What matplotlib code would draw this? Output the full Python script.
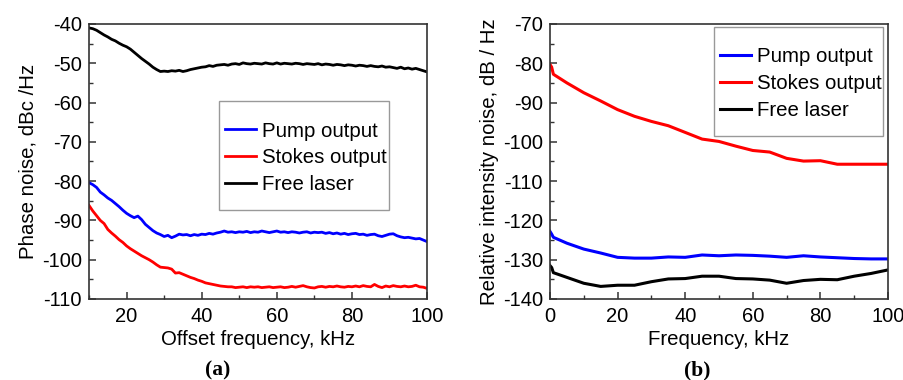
import numpy as np
import matplotlib.pyplot as plt
from matplotlib.patches import Rectangle

plt.rcParams['font.family'] = ['Liberation Sans', 'DejaVu Sans']
plt.rcParams['font.size'] = 14.5
plt.rcParams['axes.unicode_minus'] = False

# ---- panel (a): phase noise, 1 kHz steps from 10 to 100 kHz ----
freq_a = np.arange(10, 101)

free_a = [-41.0, -41.2, -41.6, -42.2, -42.8, -43.3, -43.9, -44.3, -44.9, -45.4,
          -45.8, -46.4, -47.2, -48.0, -48.8, -49.5, -50.2, -51.0, -51.6, -52.1,
          -52.0, -52.1, -51.9, -52.0, -51.8, -52.1, -51.9, -51.6, -51.4, -51.2,
          -51.0, -50.9, -50.6, -50.8, -50.5, -50.4, -50.3, -50.5, -50.2, -50.1,
          -50.3, -49.9, -50.1, -50.2, -50.0, -50.1, -50.2, -49.9, -50.1, -50.2,
          -49.9, -50.2, -50.0, -50.1, -50.2, -50.0, -50.1, -50.3, -50.1, -50.2,
          -50.3, -50.1, -50.4, -50.2, -50.3, -50.5, -50.3, -50.4, -50.6, -50.4,
          -50.5, -50.7, -50.5, -50.6, -50.8, -50.6, -50.8, -50.9, -50.7, -51.0,
          -50.9, -51.1, -51.3, -51.0, -51.4, -51.2, -51.5, -51.3, -51.6, -51.9,
          -52.2]

pump_a = [-80.4, -80.9, -81.6, -82.8, -83.5, -84.3, -84.9, -85.7, -86.5, -87.4,
          -88.2, -88.8, -89.3, -88.9, -89.8, -91.0, -91.8, -92.6, -93.2, -93.6,
          -94.1, -93.8, -94.4, -94.0, -93.5, -93.7, -93.6, -93.9, -93.6, -93.8,
          -93.5, -93.6, -93.3, -93.5, -93.2, -93.0, -92.7, -93.0, -92.9, -93.1,
          -92.9, -93.0, -92.8, -93.1, -92.9, -93.0, -92.7, -92.9, -93.1, -92.9,
          -92.7, -93.0, -92.9, -93.1, -92.9, -93.0, -93.2, -93.0, -92.9, -93.2,
          -93.0, -93.1, -93.0, -93.3, -93.1, -93.4, -93.2, -93.5, -93.3, -93.6,
          -93.4, -93.3, -93.6, -93.5, -93.8, -93.6, -93.5, -93.9, -94.1, -93.8,
          -93.5, -93.4, -93.9, -94.2, -94.4, -94.3, -94.5, -94.7, -94.6, -95.0,
          -95.4]

stokes_a = [-86.2, -87.6, -88.8, -90.0, -90.8, -92.3, -93.2, -94.0, -94.9, -95.6,
            -96.5, -97.2, -97.8, -98.4, -99.0, -99.5, -100.0, -100.6, -101.3, -101.9,
            -102.0, -102.1, -102.4, -103.4, -103.3, -103.7, -104.1, -104.5, -104.8, -105.2,
            -105.5, -105.9, -106.1, -106.3, -106.5, -106.7, -106.8, -106.9, -106.9, -107.1,
            -107.0, -106.9, -107.1, -106.9, -107.0, -106.9, -107.1, -107.0, -106.9, -107.1,
            -107.0, -106.9, -107.1, -107.0, -106.8, -107.0, -106.8, -106.6, -106.9, -107.1,
            -107.2, -106.9, -106.8, -107.0, -106.8, -106.9, -106.7, -106.9, -107.0, -106.8,
            -106.9, -106.7, -106.9, -106.6, -106.8, -106.9, -106.3, -106.8, -107.1, -106.7,
            -106.9, -106.6, -106.8, -106.9, -106.7, -106.9, -106.8, -106.5, -106.9, -107.0,
            -107.3]

# ---- panel (b): relative intensity noise ----
freq_b = [0, 0.5, 1, 5, 10, 15, 20, 25, 30, 35, 40, 45, 50, 55, 60, 65, 70, 75, 80, 85, 90, 95, 100]
stokes_b = [-80.3, -81.0, -82.8, -85.0, -87.5, -89.6, -91.8, -93.5, -94.8, -95.9, -97.6, -99.3,
            -99.9, -101.1, -102.2, -102.6, -104.2, -104.9, -104.8, -105.7, -105.7, -105.7, -105.7]
pump_b = [-122.8, -123.5, -124.3, -125.8, -127.3, -128.3, -129.4, -129.6, -129.6, -129.3, -129.4,
          -128.8, -129.0, -128.8, -128.9, -129.1, -129.4, -129.0, -129.3, -129.5, -129.7, -129.8, -129.8]
free_b = [-131.5, -132.0, -133.3, -134.5, -136.0, -136.8, -136.5, -136.5, -135.6, -134.9, -134.8,
          -134.2, -134.2, -134.8, -134.9, -135.2, -136.0, -135.3, -135.0, -135.1, -134.2, -133.5, -132.6]

labels = ['Pump output', 'Stokes output', 'Free laser']
colors = ['#0000ff', '#ff0000', '#000000']

fig = plt.figure(figsize=(9.04, 3.80), dpi=100)
ax1 = fig.add_axes([0.0985, 0.2132, 0.3739, 0.7237])
ax2 = fig.add_axes([0.6084, 0.2132, 0.3739, 0.7237])


def style(ax):
    for s in ax.spines.values():
        s.set_color('#333333')
        s.set_linewidth(1.2)
    ax.tick_params(which='both', direction='in', top=False, right=False, color='#333333')
    ax.tick_params(which='major', length=5, width=1.1, labelsize=14.5, pad=5)
    ax.tick_params(which='minor', length=3, width=1.0)
    ax.tick_params(axis='x', which='major', pad=6)


def legend_box(ax, x0, y0, w, h, anchor):
    ax.add_patch(Rectangle((x0, y0), w, h, transform=ax.transAxes, fill=False,
                           edgecolor='#999999', linewidth=1.0, zorder=5))
    ax.legend(frameon=False, loc='upper left', bbox_to_anchor=anchor, borderpad=0,
              borderaxespad=0, handlelength=1.5, handletextpad=0.3,
              labelspacing=0.38, fontsize=14.7)


for ys, lab, c in zip([pump_a, stokes_a, free_a], labels, colors):
    ax1.plot(freq_a, ys, color=c, lw=2.0, label=lab)
ax1.set_xlim(10, 100)
ax1.set_ylim(-110, -40)
ax1.set_xticks([20, 40, 60, 80, 100])
ax1.set_xticks([10, 30, 50, 70, 90], minor=True)
ax1.set_yticks(np.arange(-110, -39, 10))
ax1.set_yticks(np.arange(-105, -40, 10), minor=True)
ax1.set_xlabel('Offset frequency, kHz', fontsize=14.7, labelpad=3)
ax1.set_ylabel('Phase noise, dBc /Hz', fontsize=14.7, labelpad=3)
style(ax1)
legend_box(ax1, 0.385, 0.324, 0.503, 0.396, (0.402, 0.645))

for ys, lab, c in zip([pump_b, stokes_b, free_b], labels, colors):
    ax2.plot(freq_b, ys, color=c, lw=2.2, label=lab)
ax2.set_xlim(0, 100)
ax2.set_ylim(-140, -70)
ax2.set_xticks(np.arange(0, 101, 20))
ax2.set_xticks(np.arange(10, 100, 20), minor=True)
ax2.set_yticks(np.arange(-140, -69, 10))
ax2.set_yticks(np.arange(-135, -70, 5), minor=True)
ax2.set_xlabel('Frequency, kHz', fontsize=14.7, labelpad=3)
ax2.set_ylabel('Relative intensity noise, dB / Hz', fontsize=14.7, labelpad=3)
style(ax2)
legend_box(ax2, 0.485, 0.593, 0.5, 0.396, (0.503, 0.915))

fig.text(0.2405, 0.012, '(a)', family='Liberation Serif', fontweight='bold', fontsize=15.5, ha='center')
fig.text(0.771, 0.012, '(b)', family='Liberation Serif', fontweight='bold', fontsize=15.5, ha='center')

fig.savefig('out.png', dpi=100)
